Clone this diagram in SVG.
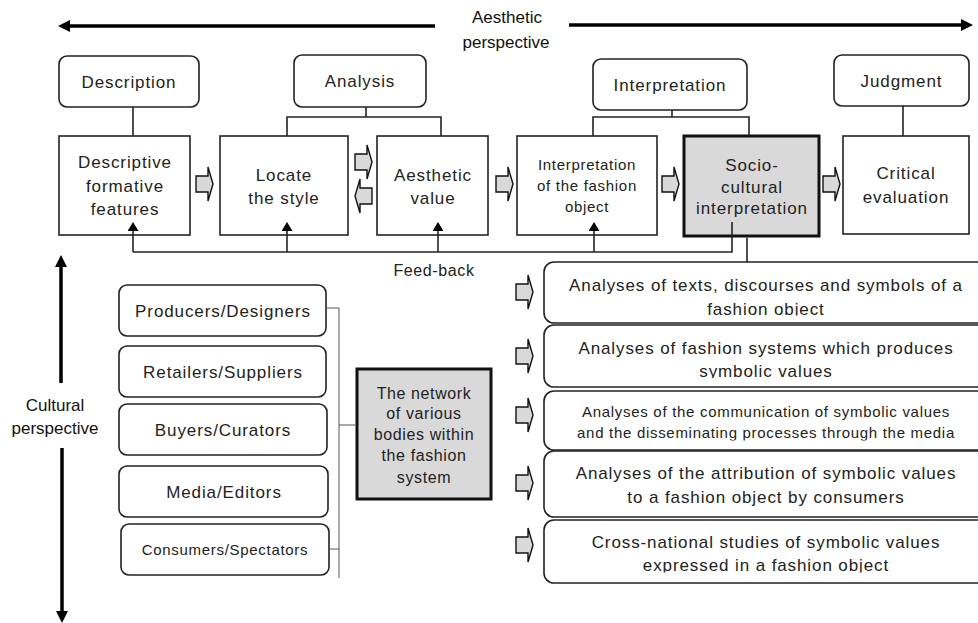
<svg xmlns="http://www.w3.org/2000/svg" width="978" height="623" viewBox="0 0 978 623">
<style>
text{font-family:"Liberation Sans",Arial,sans-serif;fill:#222;text-anchor:middle}
.t17{font-size:17px;letter-spacing:0.9px}
.t16{font-size:16px;letter-spacing:0.6px}
.t15{font-size:15px;letter-spacing:0.7px}
.ar{font-size:17px;fill:#111}
.box{fill:#fff;stroke:#222;stroke-width:1.6}
.thick{fill:#d9d9d9;stroke:#111;stroke-width:3}
.ln{fill:none;stroke:#222;stroke-width:1.6}
.thin{fill:none;stroke:#555;stroke-width:1}
.big{fill:none;stroke:#000;stroke-width:3.5}
.blk{fill:#d9d9d9;stroke:#111;stroke-width:1.4;stroke-linejoin:miter}
</style>
<defs>
<marker id="tri" viewBox="0 0 10 10" refX="0" refY="5" markerWidth="9" markerHeight="11" markerUnits="userSpaceOnUse" orient="auto" preserveAspectRatio="none"><path d="M0,0 L10,5 L0,10 Z" fill="#000"/></marker>
<marker id="bigh" viewBox="0 0 10 10" refX="0" refY="5" markerWidth="12" markerHeight="12" markerUnits="userSpaceOnUse" orient="auto" preserveAspectRatio="none"><path d="M0,0 L10,5 L0,10 Z" fill="#000"/></marker>
<path id="barrow" class="blk" d="M0,-8 H12 V-17 L17,0 L12,17 V8 H0 Z"/>
<clipPath id="c1"><rect x="540" y="262" width="440" height="53.5"/></clipPath>
<clipPath id="c2"><rect x="540" y="325" width="440" height="53"/></clipPath>
<clipPath id="c3"><rect x="540" y="391" width="440" height="49.5"/></clipPath>
<clipPath id="c5"><rect x="540" y="520" width="440" height="52.5"/></clipPath>
</defs>

<g id="aesthetic-perspective">
<line class="big" x1="435" y1="26" x2="70" y2="26" marker-end="url(#bigh)"/>
<line class="big" x1="569" y1="25" x2="961" y2="25" marker-end="url(#bigh)"/>
<text class="ar" x="507" y="23">Aesthetic</text>
<text class="ar" x="506" y="48">perspective</text>
</g>

<g id="cultural-perspective">
<line class="big" x1="61" y1="383" x2="61" y2="267" marker-end="url(#bigh)"/>
<line class="big" x1="62" y1="448" x2="62" y2="611" marker-end="url(#bigh)"/>
<text class="ar" x="55" y="411">Cultural</text>
<text class="ar" x="55" y="434">perspective</text>
</g>

<g id="description"><rect class="box" x="59" y="56" width="140" height="51" rx="8"/><text class="t17" x="129" y="88">Description</text></g>
<g id="analysis"><rect class="box" x="294" y="55" width="132" height="52" rx="8"/><text class="t17" x="360" y="87">Analysis</text></g>
<g id="interpretation"><rect class="box" x="593" y="59" width="154" height="51" rx="8"/><text class="t17" x="670" y="91">Interpretation</text></g>
<g id="judgment"><rect class="box" x="834" y="55" width="135" height="51" rx="8"/><text class="t17" x="901.5" y="87">Judgment</text></g>

<g id="descriptive"><rect class="box" x="59" y="136" width="131" height="99"/><text class="t17" x="125" y="168">Descriptive</text><text class="t17" x="125" y="192">formative</text><text class="t17" x="125" y="215">features</text></g>
<g id="locate"><rect class="box" x="220" y="136" width="128" height="99"/><text class="t17" x="284" y="181">Locate</text><text class="t17" x="284" y="204">the style</text></g>
<g id="aesthetic-value"><rect class="box" x="377" y="136" width="111" height="99"/><text class="t17" x="433" y="181">Aesthetic</text><text class="t17" x="433" y="204">value</text></g>
<g id="interp-object"><rect class="box" x="517" y="136" width="140" height="99"/><text class="t15" x="587" y="170">Interpretation</text><text class="t15" x="587" y="191">of the fashion</text><text class="t15" x="587" y="212">object</text></g>
<g id="socio-cultural"><rect class="thick" x="684" y="136" width="135" height="100"/><text class="t17" x="752" y="171">Socio-</text><text class="t17" x="752" y="193">cultural</text><text class="t17" x="752" y="214">interpretation</text></g>
<g id="critical"><rect class="box" x="843" y="136" width="126" height="98"/><text class="t17" x="906" y="179">Critical</text><text class="t17" x="906" y="203">evaluation</text></g>

<g id="producers"><rect class="box" x="119" y="285" width="207" height="51" rx="8"/><text class="t17" x="223" y="317">Producers/Designers</text></g>
<g id="retailers"><rect class="box" x="119" y="346" width="207" height="51" rx="8"/><text class="t17" x="223" y="378">Retailers/Suppliers</text></g>
<g id="buyers"><rect class="box" x="119" y="404" width="208" height="51" rx="8"/><text class="t17" x="223" y="436">Buyers/Curators</text></g>
<g id="media"><rect class="box" x="119" y="466" width="209" height="51" rx="8"/><text class="t17" x="224" y="498">Media/Editors</text></g>
<g id="consumers"><rect class="box" x="121" y="524" width="208" height="51" rx="8"/><text class="t15" x="225" y="555">Consumers/Spectators</text></g>

<g id="network"><rect class="thick" x="357" y="369" width="134" height="130"/><text class="t16" x="424" y="399">The network</text><text class="t16" x="424" y="419">of various</text><text class="t16" x="424" y="440">bodies within</text><text class="t16" x="424" y="461">the fashion</text><text class="t16" x="424" y="483">system</text></g>

<g id="texts-discourses"><rect class="box" x="544" y="262" width="460" height="61" rx="10"/><g clip-path="url(#c1)"><text class="t17" x="766" y="291">Analyses of texts, discourses and symbols of a</text><text class="t17" x="766" y="315">fashion object</text></g></g>
<g id="fashion-systems"><rect class="box" x="544" y="325" width="460" height="62" rx="10"/><g clip-path="url(#c2)"><text class="t17" x="766" y="354">Analyses of fashion systems which produces</text><text class="t17" x="766" y="377">symbolic values</text></g></g>
<g id="communication"><rect class="box" x="544" y="391" width="460" height="59" rx="10"/><g clip-path="url(#c3)"><text class="t15" x="766" y="417">Analyses of the communication of symbolic values</text><text class="t15" x="766" y="438">and the disseminating processes through the media</text></g></g>
<g id="attribution"><rect class="box" x="544" y="451" width="460" height="66" rx="10"/><text class="t17" x="766" y="479">Analyses of the attribution of symbolic values</text><text class="t17" x="766" y="503">to a fashion object by consumers</text></g>
<g id="cross-national"><rect class="box" x="544" y="520" width="460" height="63" rx="10"/><g clip-path="url(#c5)"><text class="t17" x="766" y="548">Cross-national studies of symbolic values</text><text class="t17" x="766" y="571">expressed in a fashion object</text></g></g>

<g id="connectors">
<path class="ln" d="M133,107 V136"/>
<path class="ln" d="M366,107 V117 M287,136 V117 H441 V136"/>
<path class="ln" d="M672,110 V117 M593,136 V117 H749 V136"/>
<path class="ln" d="M903,106 V136"/>
<path class="ln" d="M133,252 H732 V222"/>
<line class="ln" x1="133" y1="252" x2="133" y2="231" marker-end="url(#tri)"/>
<line class="ln" x1="287" y1="252" x2="287" y2="231" marker-end="url(#tri)"/>
<line class="ln" x1="438" y1="252" x2="438" y2="231" marker-end="url(#tri)"/>
<line class="ln" x1="594" y1="252" x2="594" y2="231" marker-end="url(#tri)"/>
<path class="ln" d="M747,237.5 V262"/>
<path class="thin" d="M326,308 H339 M339,308 V578 M339,425 H355.5 M329,549 H339"/>
<use href="#barrow" transform="translate(196,184)"/>
<use href="#barrow" transform="translate(355,162)"/>
<use href="#barrow" transform="translate(372,196) scale(-1,1)"/>
<use href="#barrow" transform="translate(496,184)"/>
<use href="#barrow" transform="translate(662,184)"/>
<use href="#barrow" transform="translate(823,184)"/>
<use href="#barrow" transform="translate(516,292)"/>
<use href="#barrow" transform="translate(516,356)"/>
<use href="#barrow" transform="translate(516,415)"/>
<use href="#barrow" transform="translate(516,483)"/>
<use href="#barrow" transform="translate(516,545)"/>
<text class="t16" x="434" y="276">Feed-back</text>
</g>
</svg>
